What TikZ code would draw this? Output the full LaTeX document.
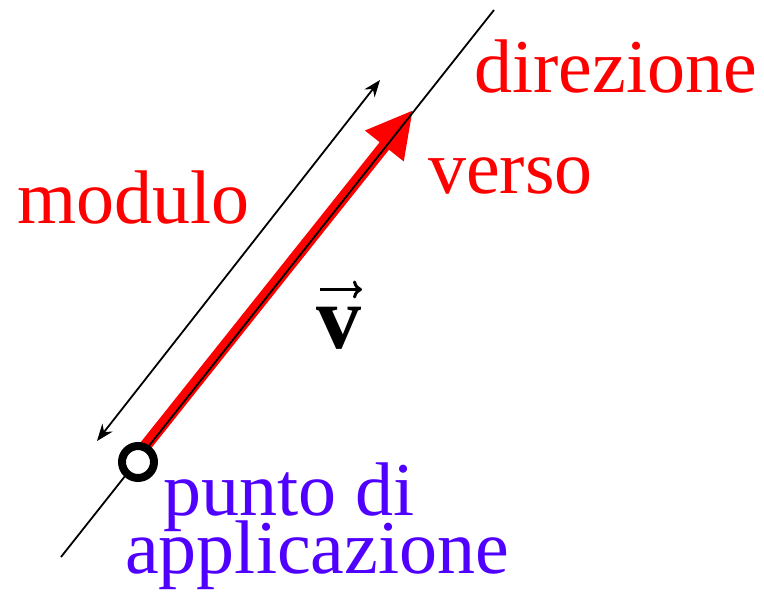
\documentclass[tikz,border=0pt]{standalone}
\usepackage{fontspec}
\setmainfont{Liberation Serif}
\usetikzlibrary{arrows.meta}
\definecolor{vred}{RGB}{255,0,0}
\definecolor{vblue}{RGB}{80,0,255}
\begin{document}
\begin{tikzpicture}[x=1pt,y=-1pt,
  lbl/.style={anchor=base west, inner sep=0pt, font=\fontsize{76}{76}\selectfont},
  thinline/.style={line width=1.8pt, black},
  ]
\useasboundingbox (0,0) rectangle (764,592);
\coordinate (L1) at (61,557);
\coordinate (L2) at (494,10);
\coordinate (S) at (135,459);
\coordinate (T) at (413,110);
\coordinate (M1) at (97,441);
\coordinate (M2) at (380,80);
% vector (red arrow)
\draw[vred, line width=12pt, -{Triangle[length=46pt,width=46pt]}] (S) -- (T);
% direction line
\draw[thinline] (L1) -- (L2);
% magnitude double arrow
\draw[thinline, {Stealth[length=17pt,width=13pt]}-{Stealth[length=17pt,width=13pt]}] (M1) -- (M2);
% application point
\node[circle, draw=black, line width=8pt, fill=white, minimum size=32pt, inner sep=0pt] (pa) at (138,462) {};
% labels
\node[lbl, text=vred] (dir) at (474,92) {direzione};
\node[lbl, text=vred] (ver) at (428,193) {verso};
\node[lbl, text=vred] (mod) at (17,223) {modulo};
\node[lbl, text=vblue] (pdi) at (163,515) {punto di};
\node[lbl, text=vblue] (app) at (125,573) {applicazione};
\node[anchor=base, inner sep=0pt, font=\fontsize{90}{90}\selectfont\bfseries] (v) at (339,348) {v};
\draw[line width=3pt, -{Computer Modern Rightarrow[length=9pt,width=18pt]}] ([xshift=-19pt,yshift=17pt]v.north) -- ([xshift=23pt,yshift=17pt]v.north);
\end{tikzpicture}
\end{document}
